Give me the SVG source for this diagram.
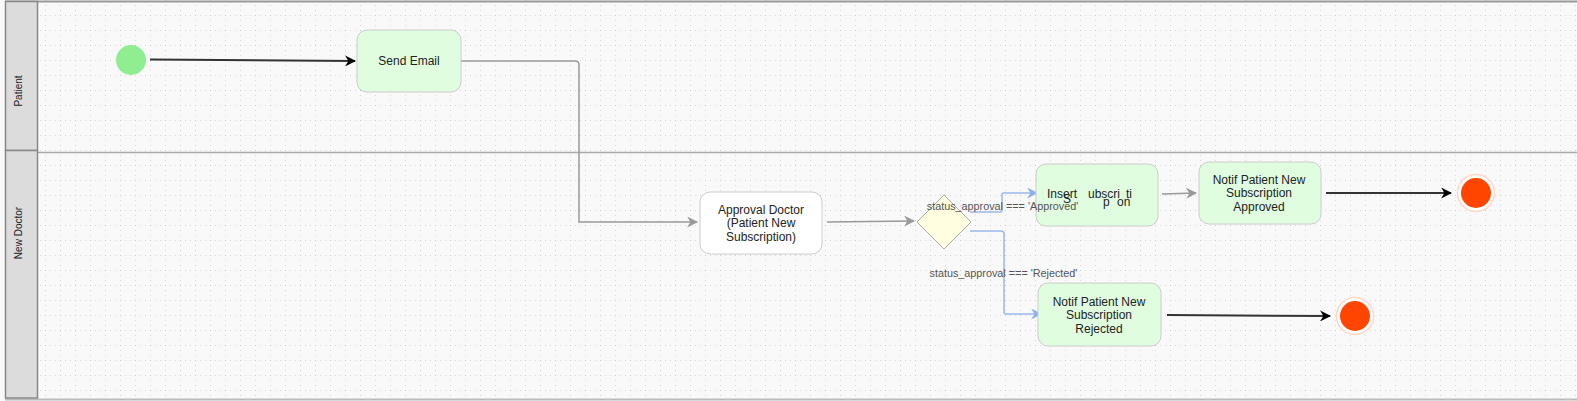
<svg xmlns="http://www.w3.org/2000/svg" width="1577" height="401" viewBox="0 0 1577 401">
  <style>
    .lanehdr { fill: #dcdcdc; stroke: #888; stroke-width: 1.5; }
    .lanelbl { font-family: "Liberation Sans", Arial, sans-serif; font-size: 10px; fill: #222; text-anchor: middle; }
    .node { fill: #e0fde0; stroke: #ccc; stroke-width: 1; }
    .white { fill: #fff; stroke: #ccc; stroke-width: 1; }
    .ntext { font-family: "Liberation Sans", Arial, sans-serif; font-size: 12px; fill: #222; text-anchor: middle; }
    .frag { font-family: "Liberation Sans", Arial, sans-serif; font-size: 12px; fill: #222; text-anchor: start; }
    .elabel { font-family: "Liberation Sans", Arial, sans-serif; font-size: 10.8px; fill: #555; text-anchor: middle; }
    .gray { fill: none; stroke: #999; stroke-width: 1.5; }
    .blue { fill: none; stroke: #9ab8ee; stroke-width: 1.5; }
    .black { fill: none; stroke: #333; stroke-width: 2; }
  </style>
  <defs>
    <pattern id="grid" x="0" y="0" width="15" height="15" patternUnits="userSpaceOnUse">
      <rect x="0" y="0" width="1" height="1" fill="#c8c8c8"/>
      <rect x="5" y="0" width="1" height="1" fill="#d8d8d8"/>
      <rect x="10" y="0" width="1" height="1" fill="#d8d8d8"/>
      <rect x="0" y="5" width="1" height="1" fill="#d8d8d8"/>
      <rect x="0" y="10" width="1" height="1" fill="#d8d8d8"/>
    </pattern>
    <marker id="ablack" viewBox="0 0 10 10" refX="9" refY="5" markerWidth="11" markerHeight="11" orient="auto" markerUnits="userSpaceOnUse">
      <path d="M0,0 L10,5 L0,10 L3,5 z" fill="#000"/>
    </marker>
    <marker id="agray" viewBox="0 0 10 10" refX="9" refY="5" markerWidth="11" markerHeight="11" orient="auto" markerUnits="userSpaceOnUse">
      <path d="M0,0 L10,5 L0,10 L3,5 z" fill="#999"/>
    </marker>
    <marker id="ablue" viewBox="0 0 10 10" refX="9" refY="5" markerWidth="11" markerHeight="11" orient="auto" markerUnits="userSpaceOnUse">
      <path d="M0,0 L10,5 L0,10 L3,5 z" fill="#8fb0ee"/>
    </marker>
  </defs>

  <rect x="0" y="0" width="1577" height="401" fill="#f9f9f9"/>
  <rect x="38" y="2" width="1539" height="395" fill="url(#grid)"/>

  <g id="lanes">
    <line x1="5" y1="1.5" x2="1577" y2="1.5" stroke="#999" stroke-width="2"/>
    <line x1="5" y1="152.5" x2="1577" y2="152.5" stroke="#aaa" stroke-width="1.5"/>
    <line x1="5" y1="399.5" x2="1577" y2="399.5" stroke="#bbb" stroke-width="2"/>
    <rect id="lane-patient" class="lanehdr" x="5.5" y="1.5" width="32" height="149"/>
    <rect id="lane-doctor" class="lanehdr" x="5.5" y="150.5" width="32" height="247.5"/>
    <text class="lanelbl" transform="translate(22,91) rotate(-90)">Patient</text>
    <text class="lanelbl" transform="translate(22,233) rotate(-90)">New Doctor</text>
  </g>

  <g id="connectors">
    <path class="black" d="M150,59.5 L355,61" marker-end="url(#ablack)"/>
    <path class="gray" d="M461,61 L575,61 Q579,61 579,65 L579,222 L697,222" marker-end="url(#agray)"/>
    <path class="gray" d="M827,222 L914,221" marker-end="url(#agray)"/>
    <path class="blue" d="M970,212 L1000,212 Q1002,212 1002,210 L1002,195 Q1002,193 1004,193 L1037,193" marker-end="url(#ablue)"/>
    <path class="blue" d="M970,231 L1001,231 Q1004,231 1004,234 L1004,312 Q1004,314 1006,314 L1041,314" marker-end="url(#ablue)"/>
    <path class="gray" d="M1162,194 L1196,193" marker-end="url(#agray)"/>
    <path class="black" d="M1326,193 L1451,193" stroke="#666" stroke-width="2.5" marker-end="url(#ablack)"/>
    <path class="black" d="M1167,315 L1330,316" stroke="#333" marker-end="url(#ablack)"/>
  </g>

  <g id="start">
    <circle cx="131" cy="60" r="15" fill="#90ee90"/>
  </g>

  <g id="send-email">
    <rect class="node" x="357" y="30" width="104" height="62" rx="10"/>
    <text class="ntext" x="409" y="65">Send Email</text>
  </g>

  <g id="approval-doctor">
    <rect class="white" x="700" y="192" width="122" height="62" rx="10"/>
    <text class="ntext" x="761" y="214">Approval Doctor</text>
    <text class="ntext" x="761" y="227">(Patient New</text>
    <text class="ntext" x="761" y="241">Subscription)</text>
  </g>

  <g id="decision">
    <polygon points="944,195 971,222 944,249 917,222" fill="#fffee0" stroke="#aaa" stroke-width="1"/>
  </g>

  <g id="insert-subscription">
    <rect class="node" x="1036" y="164" width="122" height="62" rx="10"/>
    <text class="frag" x="1047" y="198">Insert</text>
    <text class="frag" x="1063" y="203">S</text>
    <text class="frag" x="1088" y="198">ubscri</text>
    <text class="frag" x="1126" y="198">ti</text>
    <text class="frag" x="1103" y="206">p</text>
    <text class="frag" x="1117" y="206">on</text>
  </g>

  <g id="notif-approved">
    <rect class="node" x="1199" y="162" width="122" height="62" rx="10"/>
    <text class="ntext" x="1259" y="184">Notif Patient New</text>
    <text class="ntext" x="1259" y="197">Subscription</text>
    <text class="ntext" x="1259" y="211">Approved</text>
  </g>

  <g id="notif-rejected">
    <rect class="node" x="1038" y="283" width="123" height="63" rx="10"/>
    <text class="ntext" x="1099" y="306">Notif Patient New</text>
    <text class="ntext" x="1099" y="319">Subscription</text>
    <text class="ntext" x="1099" y="333">Rejected</text>
  </g>

  <g id="end-approved">
    <circle cx="1476" cy="193" r="18.5" fill="#fff" stroke="#ffd6c8" stroke-width="1.5"/>
    <circle cx="1476" cy="193" r="15" fill="#ff4500"/>
  </g>

  <g id="end-rejected">
    <circle cx="1355" cy="316" r="18.5" fill="#fff" stroke="#ffd6c8" stroke-width="1.5"/>
    <circle cx="1355" cy="316" r="15" fill="#ff4500"/>
  </g>

  <g id="edge-labels">
    <text class="elabel" x="1002.5" y="210">status_approval === 'Approved'</text>
    <text class="elabel" x="1003.5" y="277">status_approval === 'Rejected'</text>
  </g>
</svg>
